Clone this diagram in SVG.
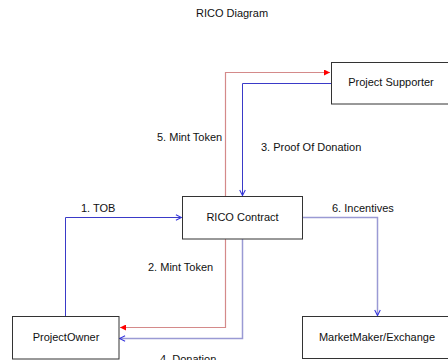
<svg xmlns="http://www.w3.org/2000/svg" width="448" height="360" viewBox="0 0 448 360">
<style>
  text { font-family: "Liberation Sans", Arial, sans-serif; font-size: 11px; fill: #111; }
  .box { fill: #fff; stroke: #333; stroke-width: 1; }
  .shadow { fill: none; stroke: #999; stroke-width: 1.5; }
  .red { fill: none; stroke: #d48a8a; stroke-width: 1.2; }
  .blue { fill: none; stroke: #3a3ac8; stroke-width: 1; }
  .lav { fill: none; stroke: #9a9ad4; stroke-width: 1.5; }
</style>
<defs>
  <marker id="ar" viewBox="0 0 10 10" refX="10" refY="5" markerWidth="6" markerHeight="6" markerUnits="userSpaceOnUse" orient="auto">
    <path d="M0,0 L10,5 L0,10 z" fill="#f00"/>
  </marker>
  <marker id="ab" viewBox="0 0 10 10" refX="9" refY="5" markerWidth="7" markerHeight="7" markerUnits="userSpaceOnUse" orient="auto">
    <path d="M1,1 L9,5 L1,9" fill="none" stroke="#3333dd" stroke-width="1.5"/>
  </marker>
</defs>
<rect width="448" height="360" fill="#fff"/>
<text x="232" y="17" text-anchor="middle">RICO Diagram</text>

<g id="connectors">
  <path class="red" d="M225.5,196 V72.5 H330" marker-end="url(#ar)"/>
  <path class="blue" d="M331,83.5 H242.5 V195.5" marker-end="url(#ab)"/>
  <path class="blue" d="M65.5,316 V217.5 H181.5" marker-end="url(#ab)"/>
  <path class="lav" d="M302,217.5 H377.5 V315.5" marker-end="url(#ab)"/>
  <path class="red" d="M225.5,239 V327.5 H120" marker-end="url(#ar)"/>
  <path class="lav" d="M242.5,239 V338.5 H119.5" marker-end="url(#ab)"/>
  <text x="157" y="141">5. Mint Token</text>
  <text x="261" y="151">3. Proof Of Donation</text>
  <text x="81" y="212">1. TOB</text>
  <text x="332" y="212">6. Incentives</text>
  <text x="148" y="271">2. Mint Token</text>
  <text x="160" y="363">4. Donation</text>
</g>

<g id="project-supporter">
  <rect class="box" x="331.5" y="62.5" width="130" height="41.5"/>
  <text x="391" y="86" text-anchor="middle">Project Supporter</text>
</g>
<g id="rico-contract">
  <rect class="box" x="182.5" y="196.5" width="120" height="42.5"/>
  <text x="242.5" y="221" text-anchor="middle">RICO Contract</text>
</g>
<g id="project-owner">
  <rect class="box" x="12.5" y="316.5" width="106.5" height="42.5"/>
  <text x="66" y="341" text-anchor="middle">ProjectOwner</text>
</g>
<g id="marketmaker-exchange">
  <rect class="box" x="302.5" y="316.5" width="160" height="42"/>
  <text x="377" y="341" text-anchor="middle">MarketMaker/Exchange</text>
</g>
</svg>
